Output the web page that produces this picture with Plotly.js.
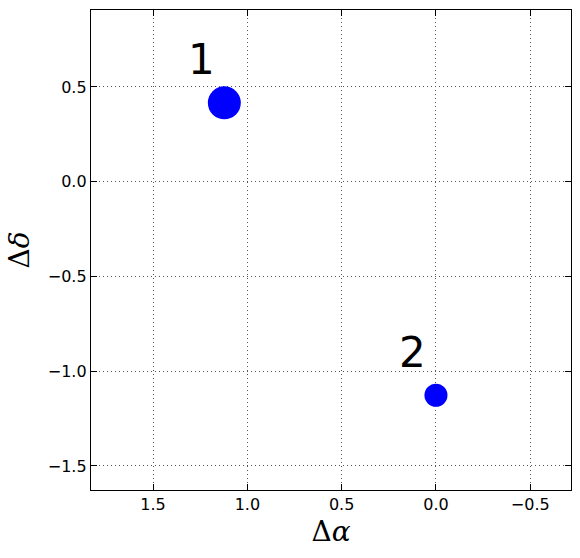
<!DOCTYPE html>
<html>
<head>
<meta charset="utf-8">
<script src="https://cdn.plot.ly/plotly-3.0.1.min.js"></script>
<style>html,body{margin:0;padding:0;background:#fff;}#chart{width:580px;height:558px;}</style>
</head>
<body>
<div id="chart"></div>
<script>
const dAlpha = [1.122, 0.0];
const dDelta = [0.416, -1.127];
const pointLabels = ["1", "2"];
const markerSizes = [33, 23];
const xTicks = [1.5, 1.0, 0.5, 0.0, -0.5];
const xTickText = ["1.5", "1.0", "0.5", "0.0", "\u22120.5"];
const yTicks = [0.5, 0.0, -0.5, -1.0, -1.5];
const yTickText = ["0.5", "0.0", "\u22120.5", "\u22121.0", "\u22121.5"];

const trace = {
  x: dAlpha, y: dDelta, mode: 'markers', type: 'scatter', opacity: 1,
  marker: {color: '#0000ff', size: markerSizes, opacity: 1, line: {width: 0}},
  hoverinfo: 'none'
};

const annotations = pointLabels.map((t, i) => ({
  x: dAlpha[i], y: dDelta[i], xref: 'x', yref: 'y', text: t,
  showarrow: false, xshift: -23, yshift: 43,
  font: {family: 'DejaVu Sans', size: 42, color: '#000'}
}));

const axisCommon = {
  showgrid: true, gridcolor: '#555', griddash: '1px,3px', gridwidth: 1,
  zeroline: false, showline: true, linecolor: '#000', linewidth: 1.2, mirror: 'ticks',
  ticks: 'inside', ticklen: 6, tickcolor: '#000', tickwidth: 1,
  tickfont: {family: 'DejaVu Sans', size: 16, color: '#000'}
};

const layout = {
  width: 580, height: 558,
  margin: {l: 91, r: 9, t: 10, b: 68},
  paper_bgcolor: '#fff', plot_bgcolor: '#fff',
  showlegend: false,
  xaxis: Object.assign({}, axisCommon, {
    range: [1.829, -0.716], tickvals: xTicks, ticktext: xTickText,
    title: {text: '\u0394<i>\u03b1</i>', font: {family: 'DejaVu Serif', size: 28, color: '#000'}, standoff: 8}
  }),
  yaxis: Object.assign({}, axisCommon, {
    range: [-1.627, 0.906], tickvals: yTicks, ticktext: yTickText,
    title: {text: '\u0394<i>\u03b4</i>', font: {family: 'DejaVu Serif', size: 28, color: '#000'}, standoff: 10}
  }),
  annotations: annotations
};

Plotly.newPlot('chart', [trace], layout, {staticPlot: true, displayModeBar: false});
</script>
</body>
</html>
